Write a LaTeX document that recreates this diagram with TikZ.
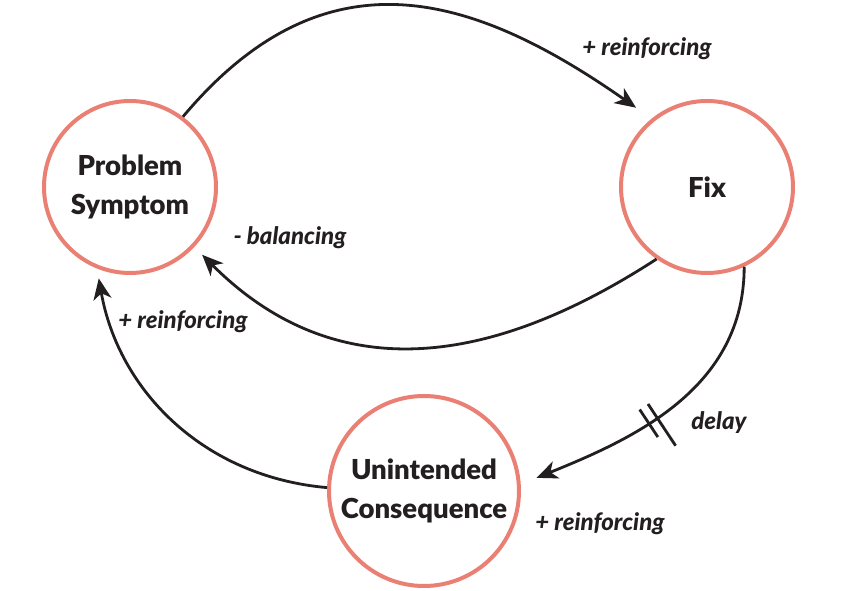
\documentclass[tikz,border=0pt]{standalone}
\usepackage{fontspec}
\setmainfont{Lato}[BoldFont={Lato Black}, BoldItalicFont={Lato Black Italic}]
\usetikzlibrary{arrows.meta,decorations.markings}
\definecolor{ringred}{RGB}{234,128,116}
\definecolor{inkblack}{RGB}{35,31,32}

\begin{document}
\begin{tikzpicture}[x=1pt, y=1pt,
  loopnode/.style={circle, draw=ringred, line width=4pt, inner sep=0pt, align=center,
    font=\fontsize{27.5}{38.5}\selectfont\bfseries, text=inkblack},
  link/.style={draw=inkblack, line width=2.8pt, -{Stealth[length=21pt,width=18pt,inset=6pt]}},
  delaymarks/.style={postaction={decorate, decoration={markings,
    mark=at position #1 with {\draw[-, inkblack, line width=2.8pt] (-5,-16) -- (-5,34) (5,-16) -- (5,34);}}}},
  polarity/.style={font=\fontsize{24}{28}\selectfont\bfseries\itshape, text=inkblack}]
  \useasboundingbox (0,0) rectangle (852,591);

  % loop variables
  \node[loopnode, minimum size=172pt] (symptom) at (130,404) {Problem\\Symptom};
  \node[loopnode, minimum size=172pt] (fix) at (707,404) {Fix};
  \node[loopnode, minimum size=190pt] (effect) at (424,100) {Unintended\\Consequence};

  % causal links
  \draw[link, shorten >=19pt] (symptom.53) to[out=50, in=145, looseness=1.2] (fix.129);
  \draw[link, shorten >=11pt] (fix.235) to[out=213, in=-45, looseness=1.1] (symptom.-43);
  \draw[link, shorten >=17pt, delaymarks=0.56] (fix.-65) to[out=-90, in=22] (effect.4);
  \draw[link, shorten >=10pt] (effect.178) to[out=175, in=-80] (symptom.-112);

  % link labels
  \node[polarity] (plusfix) at (647,542) {+ reinforcing};
  \node[polarity] (minusfix) at (290,353) {- balancing};
  \node[polarity] (plusback) at (183,269) {+ reinforcing};
  \node[polarity] (delaytext) at (719,168) {delay};
  \node[polarity] (pluseffect) at (600,67) {+ reinforcing};
\end{tikzpicture}
\end{document}
